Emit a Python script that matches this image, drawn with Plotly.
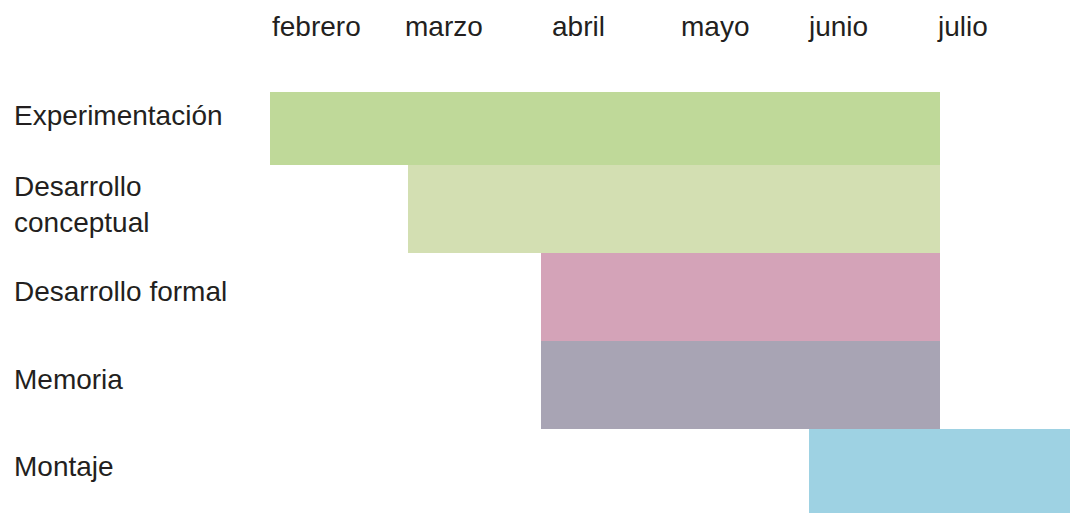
import plotly.graph_objects as go

# ---- data ----
tasks = ["Experimentación", "Desarrollo<br>conceptual", "Desarrollo formal", "Memoria", "Montaje"]
start_month = [0.0, 1.03, 2.02, 2.02, 4.02]   # month index (0 = febrero)
end_month = [5.0, 5.0, 5.0, 5.0, 6.0]
months = ["febrero", "marzo", "abril", "mayo", "junio", "julio"]

# ---- style ----
colors = ["#BFD999", "#D3DFB2", "#D4A3B8", "#A8A4B4", "#9ED2E3"]
month_label_x = [0.0, 0.99, 2.09, 3.05, 4.0, 4.96]   # left edges of month labels (axis units)
label_yshift = [6, 5, 6, 6, 7]
text_color = "#231F20"
font_family = "Arial, 'Liberation Sans', sans-serif"
FS = 28

W, H = 1070, 513
L, T = 270, 92
px_per_month = 134.0
px_per_row = 88.0
row0_px = 77.0  # pixel where first row band starts (clipped by plot top)

plot_w = W - L
plot_h = H - T

rows = list(range(len(tasks)))
fig = go.Figure()
for i in rows:
    fig.add_trace(go.Bar(
        orientation="h",
        y=[i + 0.5],
        x=[end_month[i] - start_month[i]],
        base=[start_month[i]],
        width=[1.0],
        marker=dict(color=colors[i], line=dict(width=0)),
        showlegend=False,
        hoverinfo="skip",
    ))

annotations = []
for i, t in enumerate(tasks):
    annotations.append(dict(
        text=t, xref="paper", yref="y",
        x=(12 - L) / plot_w, y=i + 0.5,
        xanchor="left", yanchor="middle", align="left",
        showarrow=False, yshift=label_yshift[i],
        font=dict(size=FS, color=text_color, family=font_family),
    ))
for m, xm in zip(months, month_label_x):
    annotations.append(dict(
        text=m, xref="x", yref="paper",
        x=xm, y=1 + (T - 27) / plot_h,
        xanchor="left", yanchor="middle",
        showarrow=False,
        font=dict(size=FS, color=text_color, family=font_family),
    ))

fig.update_layout(
    width=W, height=H,
    margin=dict(l=L, r=0, t=T, b=0, pad=0),
    paper_bgcolor="white", plot_bgcolor="white",
    barmode="overlay", bargap=0,
    xaxis=dict(range=[0, plot_w / px_per_month], visible=False, fixedrange=True),
    yaxis=dict(range=[(H - row0_px) / px_per_row, (T - row0_px) / px_per_row],
               visible=False, fixedrange=True),
    annotations=annotations,
    showlegend=False,
)

fig.write_html(
    "out.html",
    config={"displayModeBar": False},
    post_script="document.body.style.margin='0';document.body.style.overflow='hidden';",
)
